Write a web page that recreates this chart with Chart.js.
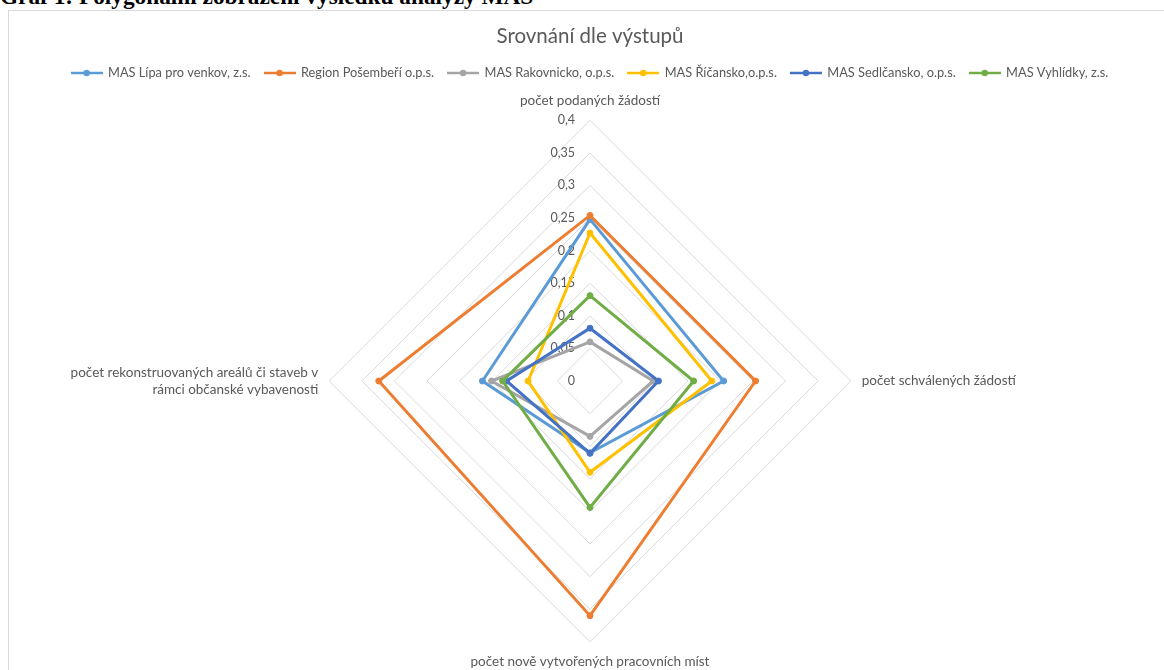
<!DOCTYPE html>
<html>
<head>
<meta charset="utf-8">
<script src="https://cdn.jsdelivr.net/npm/chart.js@4.4.0/dist/chart.umd.min.js"></script>
<style>
html, body { margin: 0; padding: 0; background: #fff; overflow: hidden; width: 1164px; height: 670px; position: relative; }
#caption { position: absolute; left: 0; top: -15px; font: bold 23.3px "Liberation Serif", serif; color: #000; white-space: nowrap; line-height: 1; }
#frame { position: absolute; left: 8px; top: 10px; width: 1170px; height: 700px; border: 1px solid #d9d9d9; }
#chart { position: absolute; left: 0; top: 0; }
</style>
</head>
<body>
<div id="caption">Graf 1: Polygonální zobrazení výsledků analýzy MAS</div>
<div id="frame"><canvas id="chart" width="1162" height="700"></canvas></div>
<script>
// axes of the radar, clockwise from the top
var categories = [
    'počet podaných žádostí',
    'počet schválených žádostí',
    'počet nově vytvořených pracovních míst',
    ['počet rekonstruovaných areálů či staveb v', 'rámci občanské vybavenosti']
];
var seriesNames = [
    'MAS Lípa pro venkov, z.s.',
    'Region Pošembeří o.p.s.',
    'MAS Rakovnicko, o.p.s.',
    'MAS Říčansko,o.p.s.',
    'MAS Sedlčansko, o.p.s.',
    'MAS Vyhlídky, z.s.'
];
var seriesColors = ['#5B9BD5', '#ED7D31', '#A5A5A5', '#FFC000', '#4472C4', '#70AD47'];

var lipa = [0.248, 0.205, 0.11, 0.165];
var posemberi = [0.254, 0.254, 0.36, 0.324];
var rakovnicko = [0.06, 0.097, 0.085, 0.151];
var ricansko = [0.227, 0.187, 0.14, 0.095];
var sedlcansko = [0.081, 0.105, 0.111, 0.128];
var vyhlidky = [0.131, 0.159, 0.194, 0.134];
var seriesValues = [lipa, posemberi, rakovnicko, ricansko, sedlcansko, vyhlidky];

var axisMax = 0.4;
var axisStep = 0.05;

var textColor = '#595959';
var labelFont = { family: 'Lato', size: 13.5, lineHeight: 1.26 };
var labelPad = 11;
var radius = 260;

var canvas = document.getElementById('chart');

// the side labels are padded with invisible hair spaces so that chart.js
// shrinks the radar to the wanted radius and keeps it centred
var HAIR = '\u200A';
var mctx = canvas.getContext('2d');
mctx.font = labelFont.size + 'px ' + labelFont.family;
function w(s) { return mctx.measureText(s).width; }
var target = canvas.width / 2 - radius - labelPad;
var left1 = categories[3][0];
while (w(HAIR + left1) <= target) left1 = HAIR + left1;
var leftW = Math.max(w(left1), w(categories[3][1]));
var rightLabel = categories[1];
while (w(rightLabel + HAIR) <= leftW) rightLabel += HAIR;
var pointLabels = [categories[0], rightLabel, categories[2], [left1, categories[3][1]]];

function fmt(v) {
    return String(Math.round(v * 100) / 100).replace('.', ',');
}

function lineMarker(color) {
    var c = document.createElement('canvas');
    c.width = 32;
    c.height = 8;
    var g = c.getContext('2d');
    g.strokeStyle = color;
    g.lineWidth = 2.5;
    g.beginPath();
    g.moveTo(0, 4);
    g.lineTo(32, 4);
    g.stroke();
    g.fillStyle = color;
    g.beginPath();
    g.arc(16, 4, 3.2, 0, Math.PI * 2);
    g.fill();
    return c;
}
var markers = seriesColors.map(lineMarker);

var tickLabels = {
    id: 'tickLabels',
    beforeDatasetsDraw: function (chart) {
        var r = chart.scales.r;
        var ctx = chart.ctx;
        ctx.save();
        ctx.font = '12.5px Lato';
        ctx.fillStyle = textColor;
        ctx.textAlign = 'right';
        ctx.textBaseline = 'middle';
        r.ticks.forEach(function (t) {
            ctx.fillText(fmt(t.value), r.xCenter - 15, r.yCenter - r.getDistanceFromCenterForValue(t.value));
        });
        ctx.restore();
    }
};

var datasets = seriesNames.map(function (name, i) {
    return {
        label: name,
        data: seriesValues[i],
        borderColor: seriesColors[i],
        backgroundColor: seriesColors[i],
        pointBackgroundColor: seriesColors[i],
        pointBorderColor: seriesColors[i],
        borderWidth: 3,
        pointRadius: 3,
        pointBorderWidth: 1,
        fill: false,
        tension: 0,
        order: seriesNames.length - i // later series on top, like the original
    };
});

var radar = new Chart(canvas, {
    type: 'radar',
    data: { labels: pointLabels, datasets: datasets },
    options: {
        responsive: false,
        animation: false,
        devicePixelRatio: 1,
        layout: { padding: { left: 0, right: 0, top: 0, bottom: 38.4 } },
        scales: {
            r: {
                min: 0,
                max: axisMax,
                beginAtZero: true,
                ticks: { display: false, stepSize: axisStep },
                grid: { color: '#d9d9d9', lineWidth: 1 },
                angleLines: { display: false },
                pointLabels: { display: true, padding: labelPad, color: textColor, font: labelFont }
            }
        },
        plugins: {
            title: {
                display: true,
                text: 'Srovnání dle výstupů',
                color: textColor,
                font: { family: 'Lato', size: 20.5, weight: 'normal' },
                padding: { top: 13.2, bottom: 3.8 }
            },
            legend: {
                position: 'top',
                labels: {
                    color: textColor,
                    font: { family: 'Lato', size: 12.8 },
                    usePointStyle: true,
                    pointStyleWidth: 30,
                    padding: 14,
                    sort: function (a, b) { return a.datasetIndex - b.datasetIndex; },
                    generateLabels: function (chart) {
                        var items = Chart.defaults.plugins.legend.labels.generateLabels(chart);
                        items.forEach(function (it) { it.pointStyle = markers[it.datasetIndex]; });
                        return items;
                    }
                }
            },
            tooltip: { enabled: false }
        }
    },
    plugins: [tickLabels]
});
</script>
</body>
</html>
